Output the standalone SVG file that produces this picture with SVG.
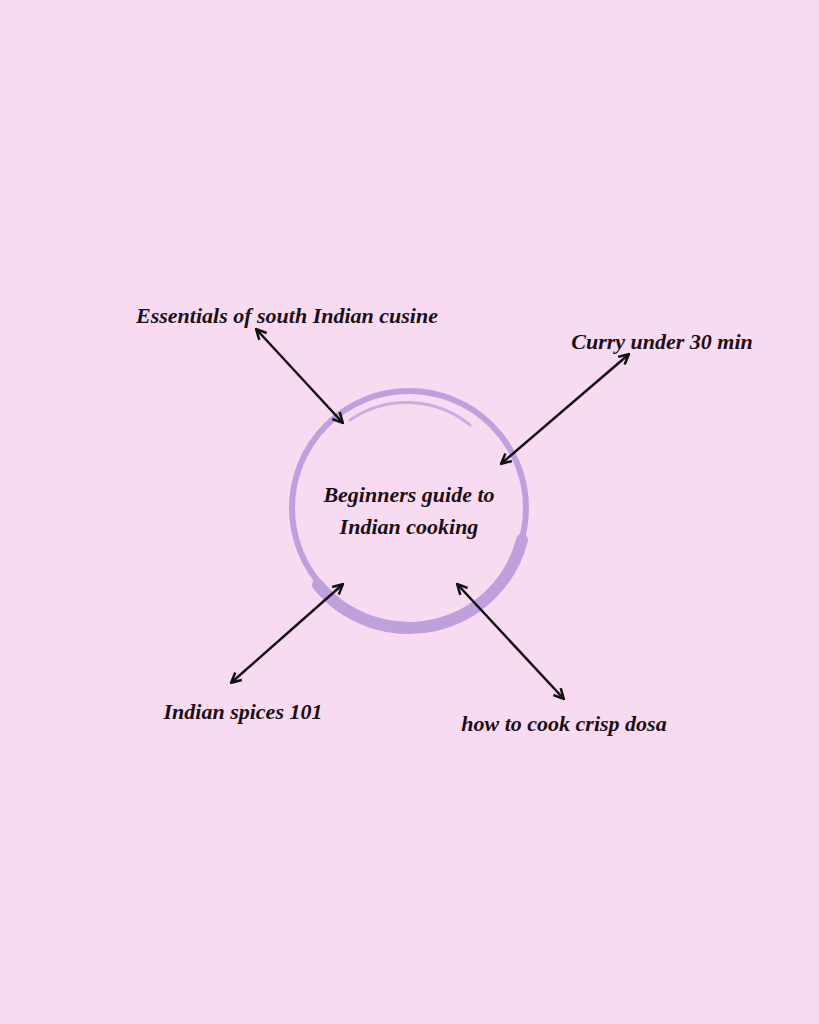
<svg xmlns="http://www.w3.org/2000/svg" width="819" height="1024" viewBox="0 0 819 1024">
<style>
.t{font-family:"Liberation Serif",serif;font-style:italic;font-weight:bold;font-size:22px;fill:#1a1014}
.c{stroke:#111;stroke-width:2.5;fill:none;marker-start:url(#a);marker-end:url(#a)}
</style>
<defs><marker id="a" viewBox="0 0 10 10" refX="8" refY="5" markerWidth="5" markerHeight="5" orient="auto-start-reverse"><path d="M1,1 L9,5 L1,9" fill="none" stroke="#111" stroke-width="2"/></marker></defs>
<rect width="819" height="1024" fill="#f8daf1"/>
<g id="center">
<circle cx="409" cy="508" r="117" fill="none" stroke="#bea0dc" stroke-width="6"/>
<path d="M318,585 A117,117 0 0 0 522,540" fill="none" stroke="#bea0dc" stroke-width="12" stroke-linecap="round"/>
<path d="M350,420 A100,100 0 0 1 470,425" fill="none" stroke="#c9aee2" stroke-width="3" stroke-linecap="round"/>
<text class="t" x="409" y="502" text-anchor="middle">Beginners guide to</text>
<text class="t" x="409" y="534" text-anchor="middle">Indian cooking</text>
</g>
<g id="n1"><text class="t" x="287" y="323" text-anchor="middle">Essentials of south Indian cusine</text></g>
<g id="n2"><text class="t" x="662" y="349" text-anchor="middle">Curry under 30 min</text></g>
<g id="n3"><text class="t" x="243" y="719" text-anchor="middle">Indian spices 101</text></g>
<g id="n4"><text class="t" x="564" y="731" text-anchor="middle">how to cook crisp dosa</text></g>
<g id="connectors">
<line class="c" x1="257" y1="330" x2="342" y2="422"/>
<line class="c" x1="628" y1="355" x2="502" y2="463"/>
<line class="c" x1="342" y1="585" x2="232" y2="682"/>
<line class="c" x1="458" y1="585" x2="563" y2="698"/>
</g>
</svg>
